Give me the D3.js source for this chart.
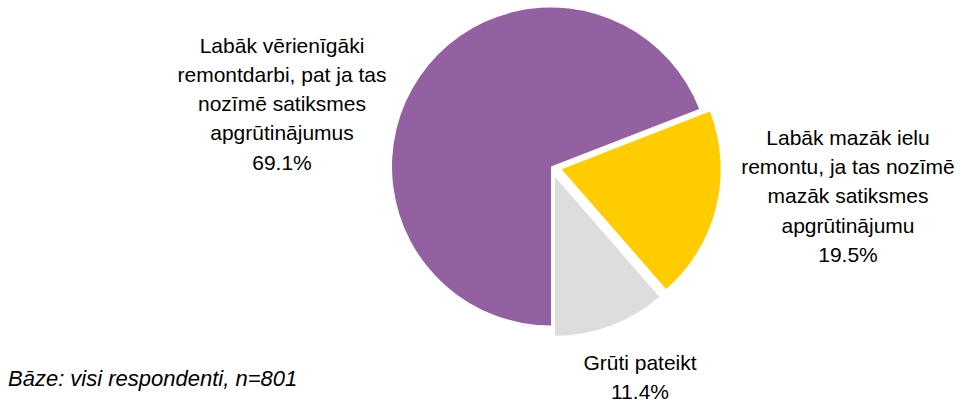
<!DOCTYPE html>
<html>
<head>
<meta charset="utf-8">
<script src="https://cdn.jsdelivr.net/npm/d3@7"></script>
<style>
  html, body { margin: 0; padding: 0; background: #ffffff; }
  svg { display: block; }
  text { font-family: "Liberation Sans", Arial, sans-serif; fill: #000; }
</style>
</head>
<body>
<div id="chart"></div>
<script>
// ---- data ----
const categories = [
  "Labāk vērienīgāki remontdarbi, pat ja tas nozīmē satiksmes apgrūtinājumus",
  "Labāk mazāk ielu remontu, ja tas nozīmē mazāk satiksmes apgrūtinājumu",
  "Grūti pateikt"
];
const values = [69.1, 19.5, 11.4];
const labelLines = [
  ["Labāk vērienīgāki", "remontdarbi, pat ja tas", "nozīmē satiksmes", "apgrūtinājumus"],
  ["Labāk mazāk ielu", "remontu, ja tas nozīmē", "mazāk satiksmes", "apgrūtinājumu"],
  ["Grūti pateikt"]
];
const colors = ["#9360A1", "#FFCC00", "#DDDDDD"];
const explode = [0, 11, 11];
const footnote = "Bāze: visi respondenti, n=801";

// ---- layout ----
const W = 957, H = 403;
const cx = 551, cy = 166.5, R = 159;
const fontSize = 21, lineH = 29.2;
// label anchor: [center x, first baseline y]
const labelPos = [[282, 52.7], [848, 145], [640, 370]];

const svg = d3.select("#chart").append("svg")
  .attr("width", W).attr("height", H);

const pie = d3.pie().sort(null).value(d => d)
  .startAngle(Math.PI).endAngle(3 * Math.PI);
const arcs = pie(values);
const arc = d3.arc().innerRadius(0).outerRadius(R);

const g = svg.append("g").attr("transform", `translate(${cx},${cy})`);
g.selectAll("path").data(arcs).enter().append("path")
  .attr("d", arc)
  .attr("fill", (d, i) => colors[i])
  .attr("transform", (d, i) => {
    const a = (d.startAngle + d.endAngle) / 2;
    return `translate(${Math.sin(a) * explode[i]},${-Math.cos(a) * explode[i]})`;
  });

const fmt = d3.format(".1f");
arcs.forEach((d, i) => {
  const lines = labelLines[i].concat([fmt(values[i]) + "%"]);
  const t = svg.append("text")
    .attr("text-anchor", "middle")
    .style("font-size", fontSize + "px");
  lines.forEach((ln, k) => {
    t.append("tspan")
      .attr("x", labelPos[i][0])
      .attr("y", labelPos[i][1] + k * lineH)
      .text(ln);
  });
});

svg.append("text")
  .attr("x", 8).attr("y", 385.5)
  .style("font-size", "22px")
  .style("font-style", "italic")
  .text(footnote);
</script>
</body>
</html>
